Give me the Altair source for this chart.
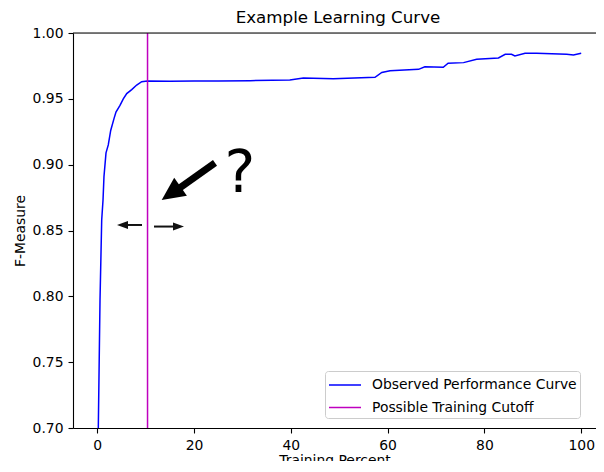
import altair as alt
import pandas as pd

# ---- data ----
curve_x = [0.2, 0.23, 0.58, 0.93, 1.2, 1.4, 1.82, 2.29, 2.79, 3.47, 3.88, 4.71, 5.39, 6.1,
           7.13, 8.16, 9.19, 10.35, 15, 20, 25, 31.6, 39.8, 42.6, 48.8, 57.4, 58.8, 60.5,
           66.4, 67.7, 71.5, 72.5, 75.7, 78.4, 82.9, 84.3, 85.6, 86.3, 88.4, 90.8, 97.0,
           98.4, 100.0]
curve_y = [0.69, 0.70, 0.797, 0.858, 0.873, 0.891, 0.909, 0.915, 0.926, 0.935, 0.940, 0.945,
           0.950, 0.954, 0.957, 0.9605, 0.963, 0.9635, 0.9634, 0.9635, 0.9636, 0.9638, 0.9643,
           0.9658, 0.9653, 0.9663, 0.970, 0.9714, 0.9724, 0.9744, 0.974, 0.977, 0.9775, 0.980,
           0.981, 0.9838, 0.9838, 0.9825, 0.9846, 0.9846, 0.9838, 0.9833, 0.9846]
cutoff_x = [10.4]
series_names = ["Observed Performance Curve", "Possible Training Cutoff"]
series_colors = ["#0000ff", "#bf00bf"]
chart_title = ["Example Learning Curve"]

x_ticks = [0, 20, 40, 60, 80, 100]
y_ticks = [0.70, 0.75, 0.80, 0.85, 0.90, 0.95, 1.00]

# annotation arrows (data coordinates)
big_tail = [24.34, 0.9013]
big_shaft_end = [16.7, 0.8815]
big_tip = [13.33, 0.8732]
small_tail_x = [9.26, 11.74]
small_shaft_end_x = [6.16, 15.66]
small_tip_x = [4.09, 17.93]
small_y = [0.8542, 0.8530]
small_angle = [270, 90]
question_pos = [29.5, 0.8792]

FONT = "DejaVu Sans"
W, H = 523, 395

curve_df = pd.DataFrame({"x": curve_x, "y": curve_y, "series": series_names[0]})
cut_df = pd.DataFrame({"x": cutoff_x, "series": series_names[1]})

xs = alt.Scale(domain=[-5, -5 + W / 4.84], nice=False, zero=False)
ys = alt.Scale(domain=[0.70, 1.00], nice=False, zero=False)

color = alt.Color(
    "series:N",
    scale=alt.Scale(domain=series_names, range=series_colors),
    legend=alt.Legend(
        title=None, orient="none", legendX=252, legendY=338,
        symbolType="M-1.6,0L1.6,0", symbolSize=400, symbolStrokeWidth=1.5,
        symbolOffset=6, labelOffset=16, rowPadding=4.5, padding=3,
        labelFont=FONT, labelFontSize=13.9, labelColor="black", labelLimit=400,
        strokeColor="#cccccc", cornerRadius=3, fillColor="rgba(255,255,255,0.8)",
    ),
)

x_axis = alt.Axis(values=x_ticks, title="Training Percent", grid=False, labelFlush=False,
                  tickSize=5, tickWidth=1.1, tickColor="black", domainColor="black",
                  domainWidth=1.1, labelPadding=5, labelFont=FONT, labelFontSize=13.9,
                  labelColor="black", titleFont=FONT, titleFontSize=13.9,
                  titleFontWeight="normal", titleColor="black", titlePadding=2)
y_axis = alt.Axis(values=y_ticks, format=".2f", title="F-Measure", grid=False,
                  labelFlush=False, tickSize=5, tickWidth=1.1, tickColor="black",
                  domainColor="black", domainWidth=1.1, labelPadding=5, labelFont=FONT,
                  labelFontSize=13.9, labelColor="black", titleFont=FONT,
                  titleFontSize=13.9, titleFontWeight="normal", titleColor="black",
                  titlePadding=5)

line = alt.Chart(curve_df).mark_line(strokeWidth=1.5, clip=True).encode(
    x=alt.X("x:Q", scale=xs, axis=x_axis),
    y=alt.Y("y:Q", scale=ys, axis=y_axis),
    color=color,
)

cut = alt.Chart(cut_df).mark_rule(strokeWidth=1.5).encode(
    x=alt.X("x:Q", scale=xs),
    color=color,
)

top_spine = alt.Chart(cut_df).mark_rule(color="black", strokeWidth=1.1).encode(
    y=alt.value(0)
)

title_df = pd.DataFrame({"t": chart_title})
title = alt.Chart(title_df).mark_text(
    font=FONT, fontSize=16.7, color="black", align="center", baseline="alphabetic"
).encode(x=alt.value(265), y=alt.value(-10), text="t:N")

big_df = pd.DataFrame({"x": [big_tail[0]], "y": [big_tail[1]],
                       "x2": [big_shaft_end[0]], "y2": [big_shaft_end[1]]})
big_shaft = alt.Chart(big_df).mark_rule(color="black", strokeWidth=7, strokeCap="butt").encode(
    x=alt.X("x:Q", scale=xs), y=alt.Y("y:Q", scale=ys), x2="x2:Q", y2="y2:Q"
)
big_head_df = pd.DataFrame({"x": [big_tip[0]], "y": [big_tip[1]]})
big_head = alt.Chart(big_head_df).mark_point(
    shape="M0,0L0.48,1L-0.48,1Z", size=2116, angle=235, filled=True,
    color="black", opacity=1, strokeWidth=0
).encode(x=alt.X("x:Q", scale=xs), y=alt.Y("y:Q", scale=ys))

small_df = pd.DataFrame({"x": small_tail_x, "x2": small_shaft_end_x, "y": small_y})
small_shaft = alt.Chart(small_df).mark_rule(color="#111111", strokeWidth=2, strokeCap="butt").encode(
    x=alt.X("x:Q", scale=xs), x2="x2:Q", y=alt.Y("y:Q", scale=ys), y2="y:Q"
)
small_head_df = pd.DataFrame({"x": small_tip_x, "y": small_y, "a": small_angle})
small_head = alt.Chart(small_head_df).mark_point(
    shape="M0,0L0.36,1L-0.36,1Z", size=484, filled=True,
    color="#111111", opacity=1, strokeWidth=0
).encode(x=alt.X("x:Q", scale=xs), y=alt.Y("y:Q", scale=ys), angle=alt.Angle("a:Q", scale=None))

q_df = pd.DataFrame({"x": [question_pos[0]], "y": [question_pos[1]], "t": ["?"]})
question = alt.Chart(q_df).mark_text(
    font=FONT, fontSize=58, color="black", align="center", baseline="alphabetic"
).encode(x=alt.X("x:Q", scale=xs), y=alt.Y("y:Q", scale=ys), text="t:N")

chart = alt.layer(
    line, cut, top_spine, title, big_shaft, big_head, small_shaft, small_head, question
).properties(
    width=W, height=H,
    padding={"left": 65, "top": 25, "right": 0, "bottom": 33},
    autosize=alt.AutoSizeParams(type="none"),
).configure_view(stroke=None).configure(background="white")

chart.save("out.html", embed_options={"renderer": "svg", "actions": False})
